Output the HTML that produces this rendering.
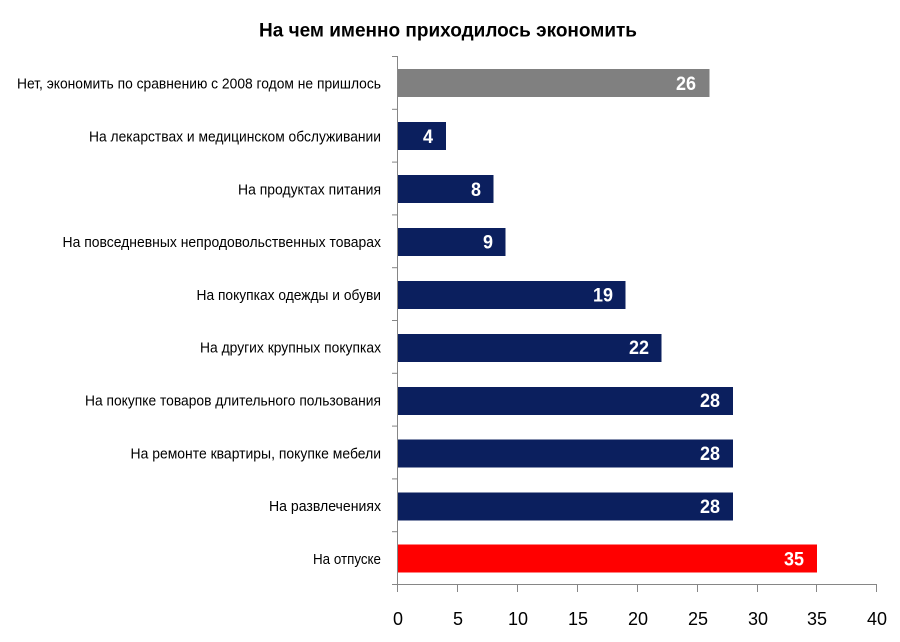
<!DOCTYPE html>
<html><head><meta charset="utf-8"><style>
html,body{margin:0;padding:0;background:#fff;}
svg{display:block;}
</style></head><body>
<svg width="900" height="642" viewBox="0 0 900 642" xmlns="http://www.w3.org/2000/svg">
<rect width="900" height="642" fill="#fff"/>
<text x="448" y="36.5" text-anchor="middle" font-family="Liberation Sans, sans-serif" font-weight="bold" font-size="19.5" textLength="378" lengthAdjust="spacingAndGlyphs" fill="#000">На чем именно приходилось экономить</text>

<!-- bars -->
<g>
<rect x="398" y="69" width="311.5" height="28" fill="#808080"/>
<rect x="398" y="122" width="48" height="28" fill="#0b1f5e"/>
<rect x="398" y="175" width="95.5" height="28" fill="#0b1f5e"/>
<rect x="398" y="228" width="107.5" height="28" fill="#0b1f5e"/>
<rect x="398" y="281" width="227.5" height="28" fill="#0b1f5e"/>
<rect x="398" y="334" width="263.5" height="28" fill="#0b1f5e"/>
<rect x="398" y="387" width="335" height="28" fill="#0b1f5e"/>
<rect x="398" y="439.5" width="335" height="28" fill="#0b1f5e"/>
<rect x="398" y="492.5" width="335" height="28" fill="#0b1f5e"/>
<rect x="398" y="544.5" width="419" height="28" fill="#ff0000"/>
</g>

<!-- axes -->
<g stroke="#868686" stroke-width="1" fill="none">
<line x1="397.5" y1="56" x2="397.5" y2="584"/>
<line x1="397" y1="584.5" x2="877" y2="584.5"/>
<line x1="392" y1="56.5" x2="397" y2="56.5"/>
<line x1="392" y1="109.3" x2="397" y2="109.3"/>
<line x1="392" y1="162.1" x2="397" y2="162.1"/>
<line x1="392" y1="214.9" x2="397" y2="214.9"/>
<line x1="392" y1="267.7" x2="397" y2="267.7"/>
<line x1="392" y1="320.5" x2="397" y2="320.5"/>
<line x1="392" y1="373.3" x2="397" y2="373.3"/>
<line x1="392" y1="426.1" x2="397" y2="426.1"/>
<line x1="392" y1="478.9" x2="397" y2="478.9"/>
<line x1="392" y1="531.7" x2="397" y2="531.7"/>
<line x1="392" y1="584.5" x2="397" y2="584.5"/>
<line x1="397.5" y1="584" x2="397.5" y2="592"/>
<line x1="457.5" y1="584" x2="457.5" y2="592"/>
<line x1="517.5" y1="584" x2="517.5" y2="592"/>
<line x1="577.5" y1="584" x2="577.5" y2="592"/>
<line x1="637.5" y1="584" x2="637.5" y2="592"/>
<line x1="697.5" y1="584" x2="697.5" y2="592"/>
<line x1="757.5" y1="584" x2="757.5" y2="592"/>
<line x1="816.5" y1="584" x2="816.5" y2="592"/>
<line x1="876.5" y1="584" x2="876.5" y2="592"/>
</g>

<!-- x tick labels -->
<g font-family="Liberation Sans, sans-serif" font-size="18" fill="#000" text-anchor="middle">
<text x="398" y="625">0</text>
<text x="458" y="625">5</text>
<text x="518" y="625">10</text>
<text x="578" y="625">15</text>
<text x="638" y="625">20</text>
<text x="698" y="625">25</text>
<text x="758" y="625">30</text>
<text x="817" y="625">35</text>
<text x="877" y="625">40</text>
</g>

<!-- category labels -->
<g font-family="Liberation Sans, sans-serif" font-size="14.5" fill="#000" text-anchor="end" lengthAdjust="spacingAndGlyphs">
<text x="381" y="88.5" textLength="364" lengthAdjust="spacingAndGlyphs">Нет, экономить по сравнению с 2008 годом не пришлось</text>
<text x="381" y="141.5" textLength="292" lengthAdjust="spacingAndGlyphs">На лекарствах и медицинском обслуживании</text>
<text x="381" y="194.3" textLength="143" lengthAdjust="spacingAndGlyphs">На продуктах питания</text>
<text x="381" y="247.1" textLength="318.5" lengthAdjust="spacingAndGlyphs">На повседневных непродовольственных товарах</text>
<text x="381" y="299.9" textLength="184.5" lengthAdjust="spacingAndGlyphs">На покупках одежды и обуви</text>
<text x="381" y="352.7" textLength="181" lengthAdjust="spacingAndGlyphs">На других крупных покупках</text>
<text x="381" y="405.5" textLength="296" lengthAdjust="spacingAndGlyphs">На покупке товаров длительного пользования</text>
<text x="381" y="458.3" textLength="250.5" lengthAdjust="spacingAndGlyphs">На ремонте квартиры, покупке мебели</text>
<text x="381" y="511.1" textLength="112" lengthAdjust="spacingAndGlyphs">На развлечениях</text>
<text x="381" y="563.9" textLength="68" lengthAdjust="spacingAndGlyphs">На отпуске</text>
</g>

<!-- value labels -->
<g font-family="Liberation Sans, sans-serif" font-weight="bold" font-size="19" fill="#fff" text-anchor="end">
<text x="696" y="90" textLength="20" lengthAdjust="spacingAndGlyphs">26</text>
<text x="433" y="143" textLength="10" lengthAdjust="spacingAndGlyphs">4</text>
<text x="481" y="195.8" textLength="10" lengthAdjust="spacingAndGlyphs">8</text>
<text x="493" y="248.6" textLength="10" lengthAdjust="spacingAndGlyphs">9</text>
<text x="613" y="301.4" textLength="20" lengthAdjust="spacingAndGlyphs">19</text>
<text x="649" y="354.2" textLength="20" lengthAdjust="spacingAndGlyphs">22</text>
<text x="720" y="407.2" textLength="20" lengthAdjust="spacingAndGlyphs">28</text>
<text x="720" y="460" textLength="20" lengthAdjust="spacingAndGlyphs">28</text>
<text x="720" y="512.8" textLength="20" lengthAdjust="spacingAndGlyphs">28</text>
<text x="804" y="565.6" textLength="20" lengthAdjust="spacingAndGlyphs">35</text>
</g>
</svg>
</body></html>
